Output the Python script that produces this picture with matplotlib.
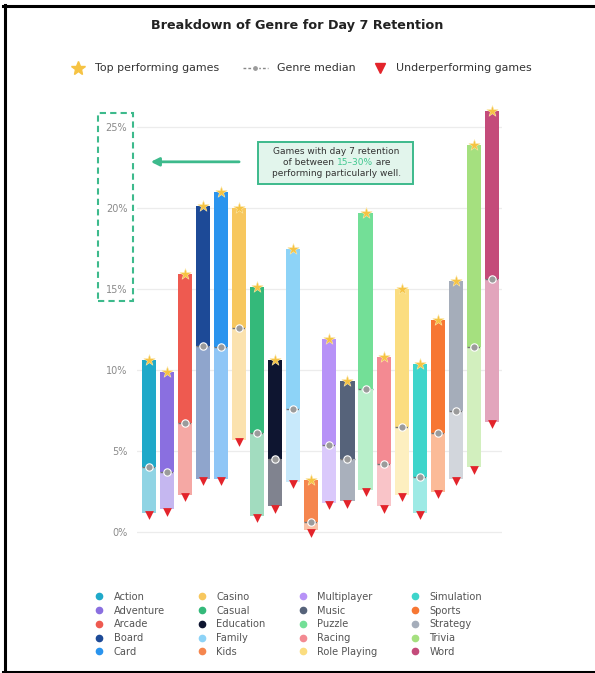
import matplotlib.pyplot as plt
from matplotlib.lines import Line2D
from matplotlib.patches import Rectangle
from matplotlib.offsetbox import TextArea, HPacker, VPacker, AnnotationBbox

genres = ['Action', 'Adventure', 'Arcade', 'Board', 'Card', 'Casino', 'Casual',
          'Education', 'Family', 'Kids', 'Multiplayer', 'Music', 'Puzzle', 'Racing',
          'Role Playing', 'Simulation', 'Sports', 'Strategy', 'Trivia', 'Word']
top_vals = [10.6, 9.9, 15.9, 20.1, 21.0, 20.0, 15.1, 10.6, 17.5, 3.2,
            11.9, 9.3, 19.7, 10.8, 15.0, 10.4, 13.1, 15.5, 23.9, 26.0]
median_vals = [4.0, 3.7, 6.7, 11.5, 11.4, 12.6, 6.1, 4.5, 7.6, 0.6,
               5.4, 4.5, 8.8, 4.2, 6.5, 3.4, 6.1, 7.5, 11.4, 15.6]
bottom_vals = [1.2, 1.4, 2.3, 3.3, 3.3, 5.7, 1.0, 1.6, 3.1, 0.1,
               1.8, 1.9, 2.6, 1.6, 2.3, 1.2, 2.5, 3.3, 4.0, 6.8]
dark_colors = ['#1fa9c9', '#8a6fe0', '#ee5a50', '#1d4a97', '#2a94ee', '#f7c75e', '#34b97a',
               '#0e1530', '#8dd3f7', '#f5864e', '#b792f7', '#56637a', '#73df97', '#f38a92',
               '#fbdd80', '#3ed5cb', '#f77733', '#a5adba', '#a5e07f', '#c44b7a']
light_colors = ['#90d4e4', '#c5b7f0', '#f5a8a4', '#8fa5cc', '#8fc6f6', '#fbe2ae', '#a2dcbf',
                '#80838f', '#c8e9fb', '#f9c2a6', '#dac9fb', '#a9b0bc', '#b8efca', '#f9c4c8',
                '#fdefc0', '#9eeae5', '#fbbb98', '#d2d6dc', '#d2efbe', '#e2a5bc']
yticks = [0, 5, 10, 15, 20, 25]

W, H = 595, 673
fig = plt.figure(figsize=(W / 100, H / 100), dpi=100)
fig.patch.set_facecolor('white')


def fx(px):
    return px / W


def fy(py):
    return 1 - py / H


# axes placed so that 0% sits at y=532px and 25% at y=127px
ppu = 16.2
y0, y1 = -1.0, 26.6
ax_bottom = 532 + (0 - y0) * ppu
ax_top = 532 - y1 * ppu
ax = fig.add_axes([fx(137), fy(ax_bottom), 365 / W, (ax_bottom - ax_top) / H])
ax.set_ylim(y0, y1)
ax.set_xlim(-0.66, 19.56)

for t in yticks:
    ax.axhline(t, color='#ececec', lw=0.9, zorder=0)
ax.set_yticks(yticks)
ax.set_yticklabels([f'{t}%' for t in yticks], color='#8a8a8a', fontsize=7)
ax.tick_params(axis='y', length=0, pad=7)
ax.set_xticks([])
for s in ax.spines.values():
    s.set_visible(False)

bw = 0.78
x = list(range(len(genres)))
for i in x:
    ax.bar(i, median_vals[i] - bottom_vals[i], bottom=bottom_vals[i], width=bw,
           color=light_colors[i], zorder=2)
    ax.bar(i, top_vals[i] - median_vals[i], bottom=median_vals[i], width=bw,
           color=dark_colors[i], zorder=2)
    ax.plot([i - bw / 2, i + bw / 2], [median_vals[i]] * 2, color='#777777',
            ls=(0, (2, 1.5)), lw=1.0, zorder=3)

ax.scatter(x, median_vals, s=28, color='#9b9b9b', edgecolor='white', lw=0.8, zorder=4)
ax.scatter(x, top_vals, marker='*', s=72, color='#f6c343', edgecolor='#fbe7a8', lw=0.4, zorder=5)
ax.scatter(x, [b - 0.15 for b in bottom_vals], marker='v', s=40, color='#e3242b', lw=0, zorder=5)

# callout box + text
green = '#3dba8c'
ax.add_patch(Rectangle((6.04, 21.48), 8.59, 2.61, fc='#e2f5ec', ec=green, lw=1.4, zorder=6))
tp = dict(fontsize=6.5, color='#333333')
line2 = HPacker(children=[TextArea('of between ', textprops=tp),
                          TextArea('15\u201330%', textprops=dict(fontsize=6.5, color='#40c890')),
                          TextArea(' are', textprops=tp)], sep=0, pad=0, align='baseline')
box = VPacker(children=[TextArea('Games with day 7 retention', textprops=tp), line2,
                        TextArea('performing particularly well.', textprops=tp)],
              sep=1.2, pad=0, align='center')
ab = AnnotationBbox(box, (10.4, 22.8), frameon=False, zorder=7)
ax.add_artist(ab)
ax.annotate('', xy=(-0.05, 22.85), xytext=(5.15, 22.85),
            arrowprops=dict(arrowstyle='-|>', color=green, lw=2, mutation_scale=12))

fig.patches.append(Rectangle((fx(98), fy(301)), 35 / W, 188 / H, transform=fig.transFigure,
                             fill=False, ls=(0, (3, 2)), ec=green, lw=1.5))

fig.text(0.5, fy(26), 'Breakdown of Genre for Day 7 Retention', ha='center', va='center',
         fontsize=9.2, fontweight='bold', color='#222222')

# key for the markers, laid out by hand
ky = fy(68)
fig.add_artist(Line2D([fx(78)], [ky], marker='*', color='#f6c343', markersize=10, transform=fig.transFigure))
fig.add_artist(Line2D([fx(243), fx(268)], [ky, ky], ls=(0, (2, 1.5)), color='#888888', lw=1,
                      transform=fig.transFigure))
fig.add_artist(Line2D([fx(255.5)], [ky], marker='o', color='#9b9b9b', markersize=4.5,
                      markeredgecolor='white', transform=fig.transFigure))
fig.add_artist(Line2D([fx(380)], [ky], marker='v', color='#e3242b', markersize=7, transform=fig.transFigure))
for px, label in [(95, 'Top performing games'), (277, 'Genre median'), (396, 'Underperforming games')]:
    fig.text(fx(px), ky, label, ha='left', va='center', fontsize=7.9, color='#333333')

genre_handles = [Line2D([], [], marker='o', ls='none', color=c, markersize=4.5) for c in dark_colors]
fig.legend(genre_handles, genres, loc='upper left', bbox_to_anchor=(fx(84), fy(583)),
           ncol=4, frameon=False, fontsize=7.1, handlelength=1.2, handletextpad=0.9,
           columnspacing=3.15, labelspacing=0.38, labelcolor='#555555')

# frame lines around the screenshot
fig.add_artist(Line2D([fx(3), 1], [fy(5.5)] * 2, color='black', lw=2.2, transform=fig.transFigure))
fig.add_artist(Line2D([fx(4.5)] * 2, [fy(5), 0], color='black', lw=2.2, transform=fig.transFigure))
fig.add_artist(Line2D([fx(3), 1], [fy(671.5)] * 2, color='black', lw=2.2, transform=fig.transFigure))

fig.savefig('out.png', dpi=100, facecolor='white')
